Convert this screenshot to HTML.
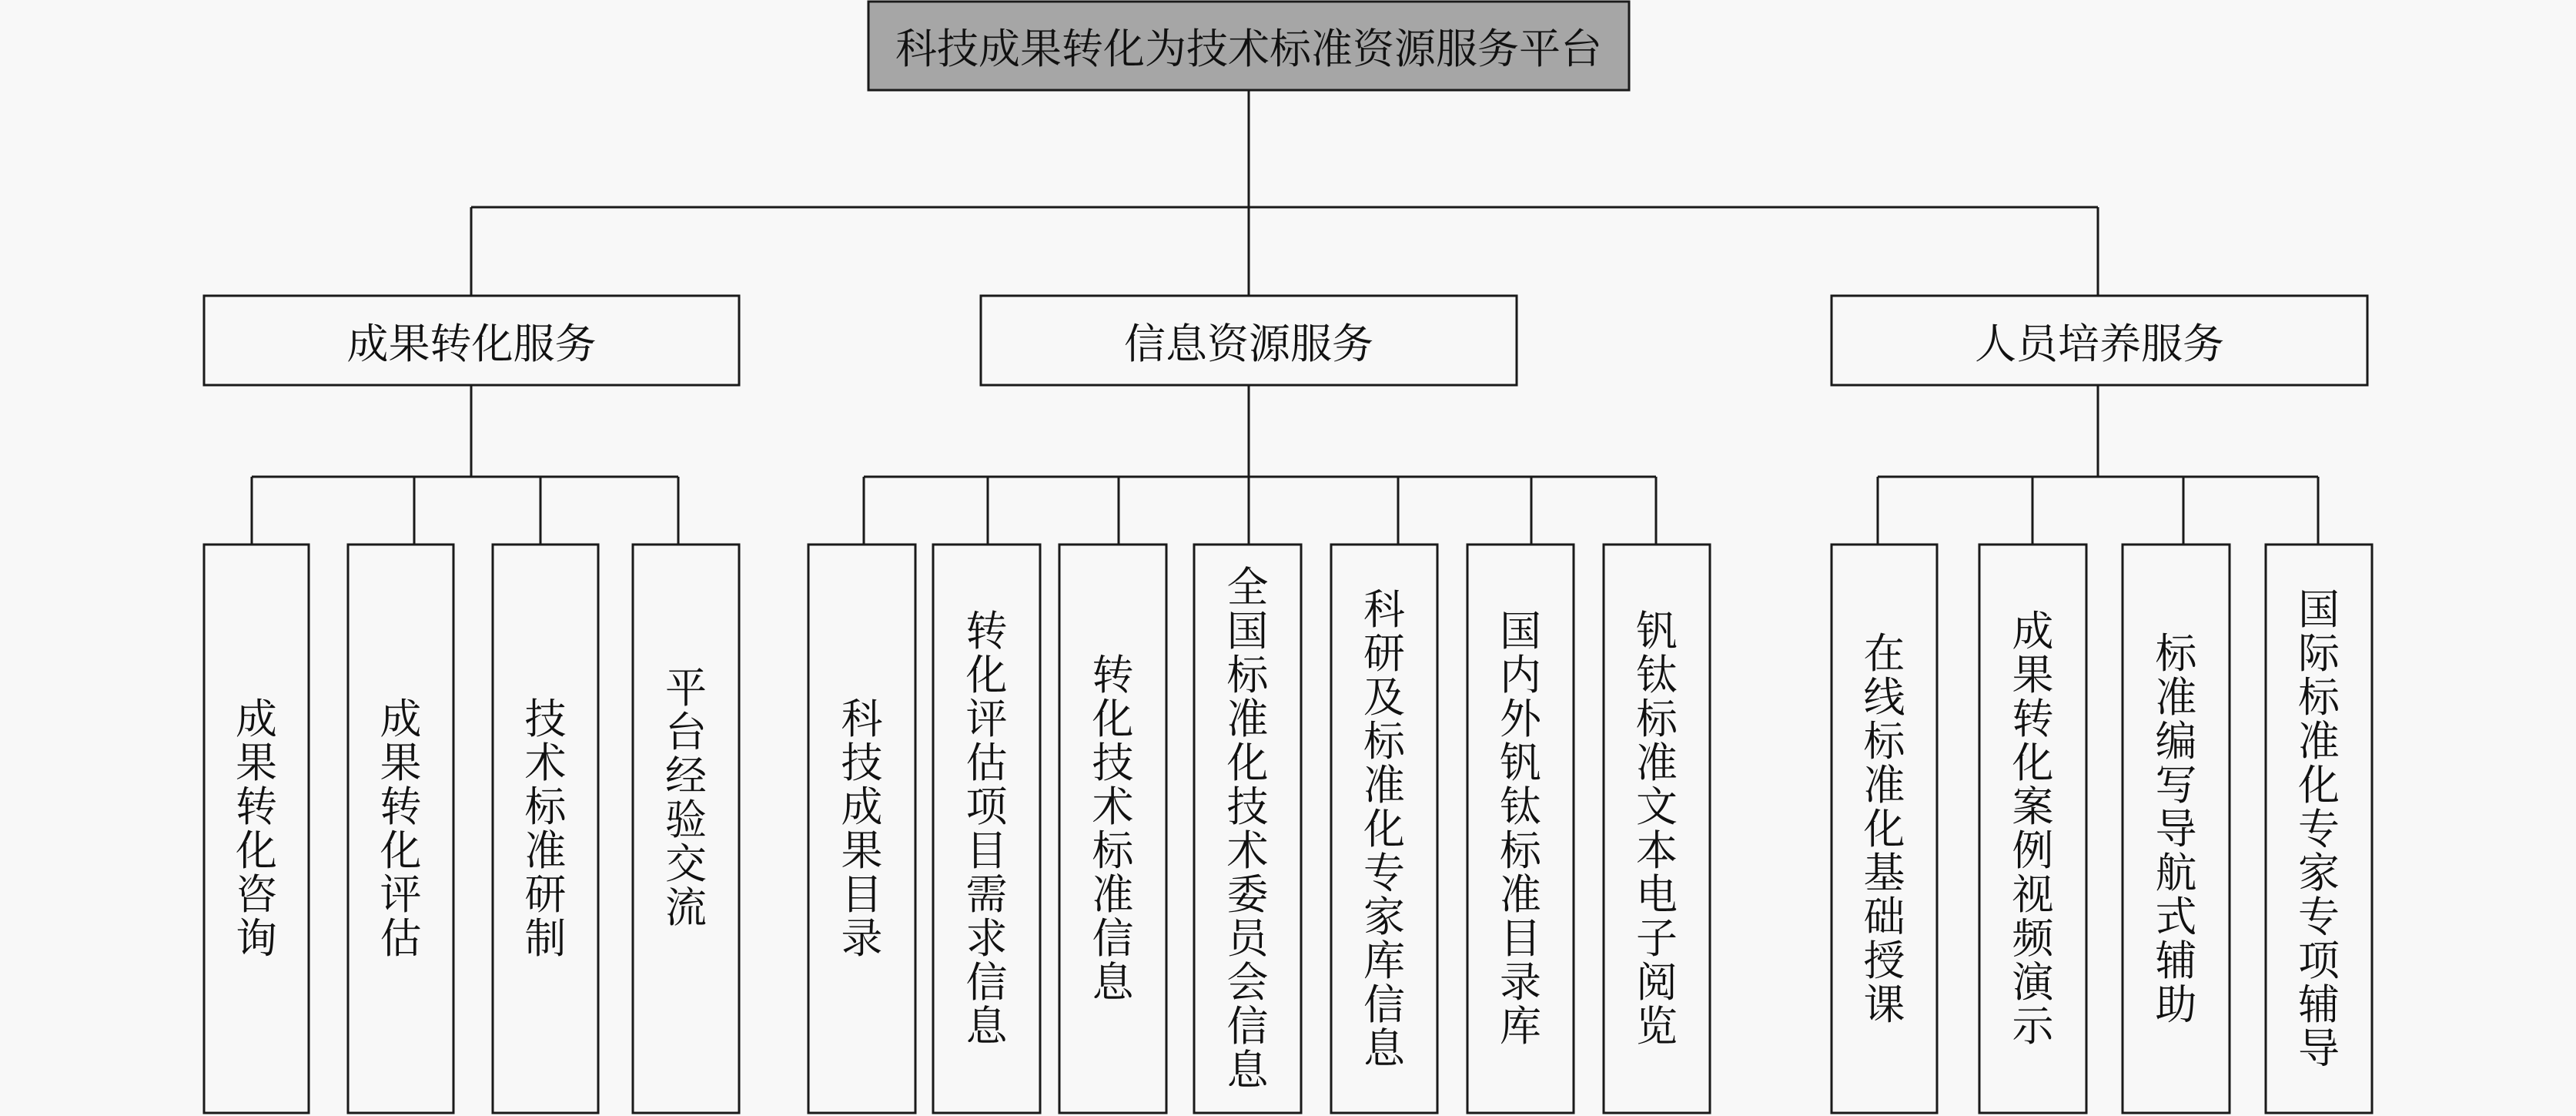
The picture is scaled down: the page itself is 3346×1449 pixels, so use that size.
<!DOCTYPE html>
<html><head><meta charset="utf-8"><style>
html,body{margin:0;padding:0;background:#f8f8f8;}
#c{position:relative;width:3346px;height:1449px;overflow:hidden;background:#f8f8f8;font-family:"Liberation Serif","Noto Serif CJK SC",serif;color:#111;}
.t{position:absolute;display:flex;align-items:center;justify-content:center;text-align:center;white-space:nowrap;}
.v{position:absolute;display:flex;align-items:center;justify-content:center;}
.v span{display:block;width:56px;font-size:54px;line-height:57px;text-align:center;word-break:break-all;}
</style></head><body><div id="c">
<svg width="3346" height="1449" style="position:absolute;left:0;top:0" stroke="#1a1a1a" stroke-width="3" fill="none">
<rect x="1128" y="2" width="988" height="115" fill="#a6a6a6"/>
<line x1="1622" y1="117" x2="1622" y2="384"/>
<line x1="612" y1="269" x2="2725" y2="269"/>
<line x1="612" y1="269" x2="612" y2="384"/>
<line x1="2725" y1="269" x2="2725" y2="384"/>
<rect x="265" y="384" width="695" height="116" fill="#f8f8f8"/>
<rect x="1274" y="384" width="696" height="116" fill="#f8f8f8"/>
<rect x="2379" y="384" width="696" height="116" fill="#f8f8f8"/>
<line x1="612" y1="500" x2="612" y2="619"/>
<line x1="1622" y1="500" x2="1622" y2="707"/>
<line x1="2725" y1="500" x2="2725" y2="619"/>
<line x1="327" y1="619" x2="881" y2="619"/>
<line x1="1122" y1="619" x2="2151" y2="619"/>
<line x1="2439" y1="619" x2="3011" y2="619"/>
<g>
<line x1="327" y1="619" x2="327" y2="707"/><line x1="538" y1="619" x2="538" y2="707"/><line x1="702" y1="619" x2="702" y2="707"/><line x1="881" y1="619" x2="881" y2="707"/>
<line x1="1122" y1="619" x2="1122" y2="707"/><line x1="1283" y1="619" x2="1283" y2="707"/><line x1="1453" y1="619" x2="1453" y2="707"/><line x1="1816" y1="619" x2="1816" y2="707"/><line x1="1989" y1="619" x2="1989" y2="707"/><line x1="2151" y1="619" x2="2151" y2="707"/>
<line x1="2439" y1="619" x2="2439" y2="707"/><line x1="2640" y1="619" x2="2640" y2="707"/><line x1="2836" y1="619" x2="2836" y2="707"/><line x1="3011" y1="619" x2="3011" y2="707"/>
</g>
<g>
<rect x="265" y="707" width="136" height="738"/><rect x="452" y="707" width="137" height="738"/><rect x="640" y="707" width="137" height="738"/><rect x="822" y="707" width="138" height="738"/>
<rect x="1050" y="707" width="139" height="738"/><rect x="1212" y="707" width="139" height="738"/><rect x="1376" y="707" width="139" height="738"/><rect x="1551" y="707" width="139" height="738"/><rect x="1729" y="707" width="138" height="738"/><rect x="1906" y="707" width="138" height="738"/><rect x="2083" y="707" width="138" height="738"/>
<rect x="2379" y="707" width="137" height="738"/><rect x="2571" y="707" width="139" height="738"/><rect x="2757" y="707" width="139" height="738"/><rect x="2943" y="707" width="138" height="738"/>
</g>
</svg>
<div class="t" style="left:1128px;top:2px;width:988px;height:115px;font-size:54px;">科技成果转化为技术标准资源服务平台</div>
<div class="t" style="left:265px;top:384px;width:695px;height:116px;font-size:54px;">成果转化服务</div>
<div class="t" style="left:1274px;top:384px;width:696px;height:116px;font-size:54px;">信息资源服务</div>
<div class="t" style="left:2379px;top:384px;width:696px;height:116px;font-size:54px;">人员培养服务</div>
<div class="v" style="left:265px;top:707px;width:136px;height:740px;"><span>成果转化咨询</span></div>
<div class="v" style="left:452px;top:707px;width:137px;height:740px;"><span>成果转化评估</span></div>
<div class="v" style="left:640px;top:707px;width:137px;height:740px;"><span>技术标准研制</span></div>
<div class="v" style="left:822px;top:707px;width:138px;height:660px;"><span>平台经验交流</span></div>
<div class="v" style="left:1050px;top:707px;width:139px;height:740px;"><span>科技成果目录</span></div>
<div class="v" style="left:1212px;top:707px;width:139px;height:740px;"><span>转化评估项目需求信息</span></div>
<div class="v" style="left:1376px;top:707px;width:139px;height:740px;"><span>转化技术标准信息</span></div>
<div class="v" style="left:1551px;top:707px;width:139px;height:740px;"><span>全国标准化技术委员会信息</span></div>
<div class="v" style="left:1729px;top:707px;width:138px;height:740px;"><span>科研及标准化专家库信息</span></div>
<div class="v" style="left:1906px;top:707px;width:138px;height:740px;"><span>国内外钒钛标准目录库</span></div>
<div class="v" style="left:2083px;top:707px;width:138px;height:740px;"><span>钒钛标准文本电子阅览</span></div>
<div class="v" style="left:2379px;top:707px;width:137px;height:740px;"><span>在线标准化基础授课</span></div>
<div class="v" style="left:2571px;top:707px;width:139px;height:740px;"><span>成果转化案例视频演示</span></div>
<div class="v" style="left:2757px;top:707px;width:139px;height:740px;"><span>标准编写导航式辅助</span></div>
<div class="v" style="left:2943px;top:707px;width:138px;height:740px;"><span>国际标准化专家专项辅导</span></div>
</div></body></html>
